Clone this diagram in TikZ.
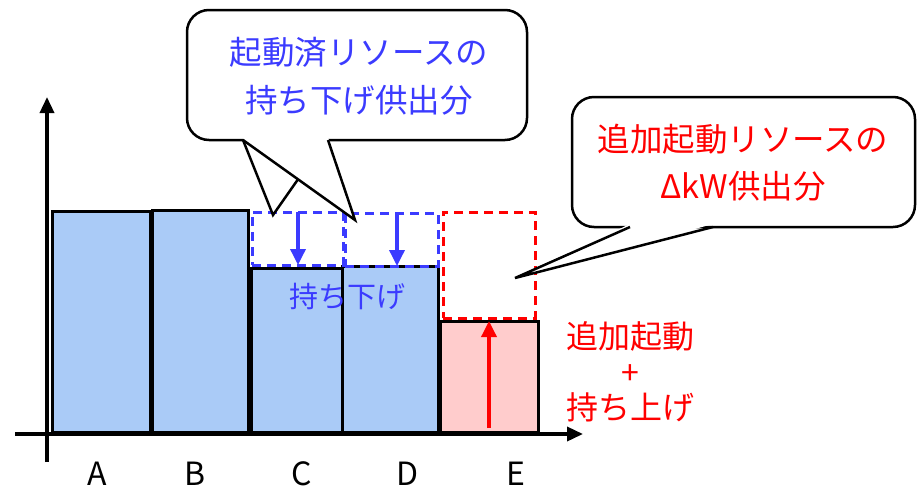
\documentclass[tikz,border=0pt]{standalone}
\usepackage{fontspec}
\setmainfont{Noto Sans CJK JP}
\usetikzlibrary{arrows.meta}
\definecolor{barblue}{HTML}{AACBF7}
\definecolor{barpink}{HTML}{FFCCCC}
\definecolor{txtblue}{HTML}{3B3BFF}
\definecolor{txtred}{HTML}{FF0000}
\tikzset{
  bar/.style={draw=black, line width=3pt, inner sep=0pt, outer sep=0pt, anchor=south west},
  dbox/.style={line width=3pt, dash pattern=on 9pt off 6pt, inner sep=0pt, outer sep=0pt, anchor=south west},
  axis/.style={line width=3.5pt, -{Triangle[length=16pt,width=14pt]}},
  callout/.style={draw=black, line width=2.5pt, fill=white, rounded corners=22pt, inner sep=0pt, align=center},
  calline/.style={draw=black, line width=2.5pt, line join=miter},
  lbl/.style={font=\fontsize{32}{34}\selectfont, text=black, inner sep=0pt, anchor=base},
  darr/.style={line width=3.5pt, -{Triangle[length=16pt,width=15pt]}},
}
\begin{document}
\begin{tikzpicture}[x=1pt,y=-1pt]
\useasboundingbox (0,0) rectangle (921,488);
% bars
\node[bar, fill=barblue, minimum width=98pt, minimum height=221pt] (A) at (52,432) {};
\node[bar, fill=barblue, minimum width=96pt, minimum height=222pt] (B) at (152,432) {};
\node[bar, fill=barblue, minimum width=91pt, minimum height=164pt] (C) at (251,432) {};
\node[bar, fill=barblue, minimum width=96pt, minimum height=166pt] (D) at (342,432) {};
\node[bar, fill=barpink, minimum width=98pt, minimum height=111pt] (E) at (440,432) {};
% dashed boxes
\node[dbox, draw=txtblue, minimum width=91pt, minimum height=53pt] (dC) at (252,265) {};
\node[dbox, draw=txtblue, minimum width=93pt, minimum height=53pt] (dD) at (345,266) {};
\node[dbox, draw=txtred, minimum width=92pt, minimum height=106pt] (dE) at (443,318) {};
% arrows
\draw[darr, txtblue] ([xshift=0.5pt]dC.north) -- ([xshift=0.5pt]dC.south);
\draw[darr, txtblue] ([xshift=5.5pt]dD.north) -- ([xshift=5.5pt]dD.south);
\draw[darr, txtred] ([yshift=4pt]E.south) -- (E.north);
% label on bars
\node[font=\fontsize{29}{32}\selectfont, text=txtblue] (down) at (347,296) {持ち下げ};
% axes
\coordinate (xs) at (15,434);
\coordinate (xe) at (583,434);
\coordinate (ys) at (47,462);
\coordinate (ye) at (47,97);
\draw[axis] (xs) -- (xe);
\draw[axis] (ys) -- (ye);
% category labels
\node[lbl] (lA) at (97,485) {A};
\node[lbl] (lB) at (195,485) {B};
\node[lbl] (lC) at (302,485) {C};
\node[lbl] (lD) at (408,485) {D};
\node[lbl] (lE) at (516,485) {E};
% red side text
\node[font=\fontsize{32}{35.5}\selectfont, text=txtred, align=center] (up) at (630,372) {追加起動\\+\\持ち上げ};
% callout 1
\node[callout, minimum width=340pt, minimum height=130pt] (c1) at (357,75) {};
\node[font=\fontsize{32.5}{48}\selectfont, text=txtblue, align=center] (t1) at (359,76) {起動済リソースの\\持ち下げ供出分};
\coordinate (p1) at (243,140);
\coordinate (p2) at (273,215);
\coordinate (p3) at (298,179.3);
\coordinate (p4) at (355,220);
\coordinate (p5) at (328,140);
\fill[white] (243,137) -- (p2) -- (p3) -- (p4) -- (328,137) -- cycle;
\draw[calline] (p1) -- (p4) -- (p5);
\draw[calline] (p1) -- (p2) -- (p3);
% callout 2
\node[callout, minimum width=343pt, minimum height=130pt] (c2) at (743.5,162) {};
\node[font=\fontsize{32.5}{47}\selectfont, text=txtred, align=center] (t2) at (743,163) {追加起動リソースの\\ΔkW供出分};
\coordinate (q1) at (630,227);
\coordinate (q2) at (515,278);
\coordinate (q3) at (713,227);
\fill[white] (630,224) -- (q2) -- (713,224) -- cycle;
\draw[calline] (q1) -- (q2) -- (q3);
\end{tikzpicture}
\end{document}
